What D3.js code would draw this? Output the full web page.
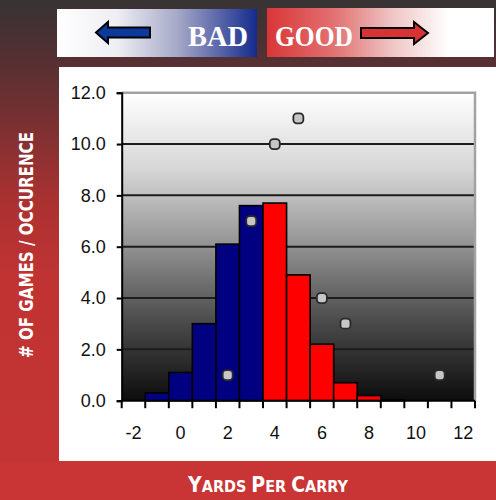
<!DOCTYPE html>
<html>
<head>
<meta charset="utf-8">
<script src="https://cdn.jsdelivr.net/npm/d3@7"></script>
<style>
  body { margin: 0; background: #fff; }
  svg { display: block; }
</style>
</head>
<body>
<svg id="chart" width="496" height="500"></svg>
<script>
// yards per carry bins (category axis) and the two series
const categories = [-2, -1, 0, 1, 2, 3, 4, 5, 6, 7, 8, 9, 10, 11, 12];
const gameCounts = [0, 0.3, 1.1, 3.0, 6.1, 7.6, 7.7, 4.9, 2.2, 0.7, 0.2, 0.03, 0, 0, 0];
const markerValues = [null, null, null, null, 1.0, 7.0, 10.0, 11.0, 4.0, 3.0, null, null, null, 1.0, null];
const goodFrom = 4;
const yTicks = [0, 2, 4, 6, 8, 10, 12];
const xTickLabels = [-2, 0, 2, 4, 6, 8, 10, 12];

var svg = d3.select("#chart"),
    plot = {left: 121.7, right: 475, top: 92.7, bottom: 400.7};

var defs = svg.append("defs");

function grad(id, x2, y2, stops) {
  var g = defs.append("linearGradient").attr("id", id)
    .attr("x1", 0).attr("y1", 0).attr("x2", x2).attr("y2", y2);
  stops.forEach(s => g.append("stop").attr("offset", s[0]).attr("stop-color", s[1]));
}
grad("bgGrad", 0, 1, [[0, "#373334"], [0.08, "#4a3033"], [0.2, "#6c3032"], [0.4, "#aa3131"], [0.55, "#c03333"], [1, "#c53434"]]);
grad("badGrad", 1, 0, [[0, "#ffffff"], [0.3, "#eeeef3"], [0.6, "#a6a9c8"], [1, "#152a8e"]]);
grad("goodGrad", 1, 0, [[0, "#d93636"], [0.3, "#e27272"], [0.55, "#efc4c4"], [0.8, "#ffffff"], [1, "#ffffff"]]);
grad("plotGrad", 0, 1, [[0, "#ffffff"], [0.25, "#d6d6d6"], [0.5, "#919191"], [0.75, "#494949"], [1, "#0c0c0c"]]);

// background, white panel, bottom band
svg.append("rect").attr("width", 496).attr("height", 500).attr("fill", "url(#bgGrad)");
svg.append("rect").attr("x", 59).attr("y", 67).attr("width", 437).attr("height", 394).attr("fill", "#fff");
svg.append("rect").attr("x", 0).attr("y", 461).attr("width", 496).attr("height", 39).attr("fill", "#c93434");

/* banner: BAD <- | -> GOOD */
svg.append("rect").attr("x", 57).attr("y", 9).attr("width", 200).attr("height", 48).attr("fill", "url(#badGrad)");
svg.append("rect").attr("x", 267).attr("y", 8).attr("width", 227).attr("height", 49).attr("fill", "url(#goodGrad)");

svg.append("polygon")
  .attr("points", "96,32.5 108,22 108,27.5 150,27.5 150,37.5 108,37.5 108,43")
  .attr("fill", "#0b3a9c").attr("stroke", "#000").attr("stroke-width", 2).attr("stroke-linejoin", "miter");
svg.append("polygon")
  .attr("points", "428,33 414,22 414,28 361,28 361,38 414,38 414,44")
  .attr("fill", "#d83232").attr("stroke", "#000").attr("stroke-width", 2).attr("stroke-linejoin", "miter");

svg.append("text").attr("x", 188).attr("y", 45.7)
  .attr("textLength", 60).attr("lengthAdjust", "spacingAndGlyphs")
  .style("font", "bold 30px 'Liberation Serif', 'DejaVu Serif', serif").attr("fill", "#fff")
  .text("BAD");
svg.append("text").attr("x", 275).attr("y", 45.7)
  .attr("textLength", 78).attr("lengthAdjust", "spacingAndGlyphs")
  .style("font", "bold 30px 'Liberation Serif', 'DejaVu Serif', serif").attr("fill", "#fff")
  .text("GOOD");

// scales
var x = d3.scaleBand().domain(categories).range([plot.left, plot.right]).padding(0);
var y = d3.scaleLinear().domain([0, 12]).range([plot.bottom, plot.top]);

svg.append("rect")
  .attr("x", plot.left).attr("y", y(12))
  .attr("width", plot.right - plot.left).attr("height", y(0) - y(12))
  .attr("fill", "url(#plotGrad)");

// gridlines
svg.append("g").selectAll("line").data(yTicks.filter(t => t > 0 && t < 12))
  .enter().append("line")
  .attr("x1", plot.left).attr("x2", plot.right)
  .attr("y1", d => y(d)).attr("y2", d => y(d))
  .attr("stroke", "#1c1c1c").attr("stroke-width", 2);

// plot frame (top + right)
svg.append("path")
  .attr("d", `M${plot.left},${y(12)}H${plot.right}V${y(0)}`)
  .attr("fill", "none").attr("stroke", "#a2a2a2").attr("stroke-width", 2.5);

// bars
svg.append("g").selectAll("rect")
  .data(categories.map((c, i) => ({cat: c, value: gameCounts[i]})).filter(d => d.value > 0))
  .enter().append("rect")
  .attr("x", d => x(d.cat))
  .attr("width", x.bandwidth())
  .attr("y", d => y(d.value))
  .attr("height", d => y(0) - y(d.value))
  .attr("fill", d => d.cat >= goodFrom ? "#ff0000" : "#000080")
  .attr("stroke", "#000").attr("stroke-width", 1.6);

// axes
var yAxis = svg.append("g")
  .attr("transform", `translate(${plot.left},0)`)
  .call(d3.axisLeft(y).tickValues(yTicks).tickFormat(d3.format(".1f")).tickSize(5).tickPadding(11));

var xAxis = svg.append("g")
  .attr("transform", `translate(0,${plot.bottom})`)
  .call(d3.axisBottom(x).tickValues(xTickLabels).tickSize(0).tickPadding(26));

xAxis.select(".domain").attr("d", `M${plot.left},0H${plot.right}`);

// category boundary ticks
xAxis.selectAll(".bound").data(categories.map(c => x(c)).concat([x.range()[1]]))
  .enter().append("line").attr("class", "bound")
  .attr("x1", d => d).attr("x2", d => d)
  .attr("y1", 0).attr("y2", 7.5)
  .attr("stroke", "#000").attr("stroke-width", 2);

[xAxis, yAxis].forEach(a => {
  a.select(".domain").attr("stroke", "#000").attr("stroke-width", 2);
  a.selectAll(".tick line").attr("stroke", "#000").attr("stroke-width", 2);
  a.selectAll("text")
    .style("font-family", "'Liberation Sans', Arial, sans-serif")
    .style("font-size", "18px")
    .attr("fill", "#111");
});

// markers series
svg.append("g").selectAll("rect")
  .data(categories.map((c, i) => ({cat: c, value: markerValues[i]})).filter(d => d.value !== null))
  .enter().append("rect")
  .attr("x", d => x(d.cat) + x.bandwidth() / 2 - 5)
  .attr("y", d => y(d.value) - 5)
  .attr("width", 10).attr("height", 10)
  .attr("rx", 3.5)
  .attr("fill", "#c6c6c6")
  .attr("stroke", "#2a2a2a").attr("stroke-width", 1.8);

// axis titles
svg.append("text")
  .attr("transform", "translate(33,245) rotate(-90)")
  .attr("text-anchor", "middle")
  .attr("textLength", 226).attr("lengthAdjust", "spacingAndGlyphs")
  .style("font", "bold 20px 'Liberation Sans Narrow', 'DejaVu Sans Condensed', 'Liberation Sans', sans-serif")
  .attr("fill", "#fff")
  .text("# OF GAMES  / OCCURENCE");

var xTitle = svg.append("text")
  .attr("x", 268).attr("y", 492)
  .attr("text-anchor", "middle")
  .style("font-weight", "bold")
  .style("font-family", "'Liberation Sans Narrow', 'DejaVu Sans Condensed', 'Liberation Sans', sans-serif")
  .attr("fill", "#fff");
[["Y", 21], ["ARDS ", 16], ["P", 21], ["ER ", 16], ["C", 21], ["ARRY", 16]].forEach(p => {
  xTitle.append("tspan").style("font-size", p[1] + "px").text(p[0]);
});
</script>
</body>
</html>
